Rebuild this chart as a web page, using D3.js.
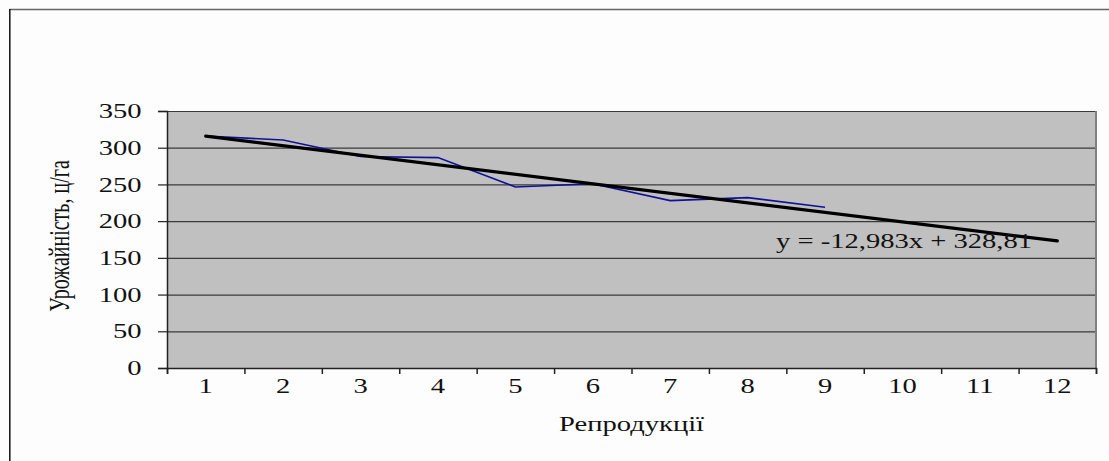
<!DOCTYPE html>
<html><head><meta charset="utf-8">
<script src="https://cdn.jsdelivr.net/npm/d3@7"></script>
<style>html,body{margin:0;padding:0;background:#fdfdfd;}svg{display:block;}</style>
</head><body>
<script>
const categories = [1,2,3,4,5,6,7,8,9,10,11,12];
const yieldValues = [316, 310.5, 288, 286.5, 246.5, 251, 228, 232, 219];
const yTicks = [0,50,100,150,200,250,300,350];
const trendSlope = -12.983;
const trendIntercept = 328.81;
const equationLabel = "y = -12,983x + 328,81";
const xTitle = "Репродукції";
const yTitle = "Урожайність, ц/га";

const W = 1109, H = 461;
const L = 167, R = 1096, T = 111, B = 368;
const SX = 1.43; // horizontal text stretch
const FONT = "'Liberation Serif','Times New Roman',serif";
const FS = 20;

const svg = d3.select("body").append("svg").attr("width", W).attr("height", H);
svg.append("rect").attr("width", W).attr("height", H).attr("fill", "#fdfdfd");
// outer frame
svg.append("line").attr("x1", 9.5).attr("x2", W).attr("y1", 9.5).attr("y2", 9.5).attr("stroke", "#666").attr("stroke-width", 1.3);
svg.append("line").attr("x1", 9.8).attr("x2", 9.8).attr("y1", 9).attr("y2", H).attr("stroke", "#111").attr("stroke-width", 1.5);

const x = d3.scaleBand().domain(categories).range([L, R]).padding(0);
const xEdge = d3.scaleLinear().domain([0, categories.length]).range([L, R]);
const y = d3.scaleLinear().domain([0, 350]).range([B, T]);

// plot area
svg.append("rect").attr("x", L).attr("y", T).attr("width", R - L).attr("height", B - T).attr("fill", "#c0c0c0");

// gridlines
const grid = svg.append("g").attr("transform", `translate(${L},0)`)
  .call(d3.axisLeft(y).tickValues(yTicks).tickSize(-(R - L)).tickFormat(""));
grid.select(".domain").remove();
grid.selectAll(".tick line").attr("stroke", "#3a3a3a").attr("stroke-width", 1.2);

// right plot border
svg.append("line").attr("x1", R).attr("x2", R).attr("y1", T).attr("y2", B).attr("stroke", "#808080").attr("stroke-width", 2);

// y axis
const yAx = svg.append("g").attr("transform", `translate(${L},0)`)
  .call(d3.axisLeft(y).tickValues(yTicks).tickSize(9).tickPadding(0));
yAx.select(".domain").attr("stroke", "#222").attr("stroke-width", 1.5);
yAx.selectAll(".tick line").attr("stroke", "#222").attr("stroke-width", 1.2);
yAx.selectAll(".tick text")
  .attr("x", -25.5 / SX).attr("dy", "0.33em")
  .attr("transform", `scale(${SX},1)`)
  .attr("font-family", FONT).attr("font-size", FS).attr("fill", "#111");

// x axis boundary ticks
const xAx = svg.append("g").attr("transform", `translate(0,${B})`)
  .call(d3.axisBottom(xEdge).tickValues(d3.range(0, categories.length + 1)).tickSize(6).tickFormat(""));
xAx.select(".domain").attr("stroke", "#222").attr("stroke-width", 1.5);
xAx.selectAll(".tick line").attr("stroke", "#222").attr("stroke-width", 1.5);

// x axis labels at band centers
const xLab = svg.append("g").attr("transform", `translate(0,${B})`)
  .call(d3.axisBottom(x).tickSize(0).tickPadding(0));
xLab.select(".domain").remove();
xLab.selectAll(".tick text")
  .attr("y", 25).attr("dy", 0)
  .attr("transform", `scale(${SX},1)`)
  .attr("font-family", FONT).attr("font-size", FS).attr("fill", "#111");

// data line
const cx = d => x(d) + x.bandwidth() / 2;
const line = d3.line().x(d => cx(d[0])).y(d => y(d[1]));
svg.append("path")
  .datum(yieldValues.map((v, i) => [categories[i], v]))
  .attr("d", line).attr("fill", "none").attr("stroke", "#10109a").attr("stroke-width", 1.6);

// trend line
const trendPts = [categories[0], categories[categories.length - 1]].map(c => [c, trendSlope * c + trendIntercept]);
svg.append("path").datum(trendPts).attr("d", line)
  .attr("fill", "none").attr("stroke", "#000").attr("stroke-width", 3.2).attr("stroke-linecap", "round");

// equation
svg.append("text").attr("transform", `translate(776,248) scale(${SX},1)`)
  .attr("font-family", FONT).attr("font-size", FS).attr("fill", "#111").text(equationLabel);

// axis titles
svg.append("text").attr("transform", `translate(${(L + R) / 2},431) scale(${SX},1)`)
  .attr("text-anchor", "middle").attr("font-family", FONT).attr("font-size", FS).attr("fill", "#111").text(xTitle);
svg.append("text").attr("transform", `translate(69,236) scale(${SX},1) rotate(-90)`)
  .attr("text-anchor", "middle").attr("font-family", FONT).attr("font-size", FS).attr("fill", "#111").text(yTitle);
</script>
</body></html>
